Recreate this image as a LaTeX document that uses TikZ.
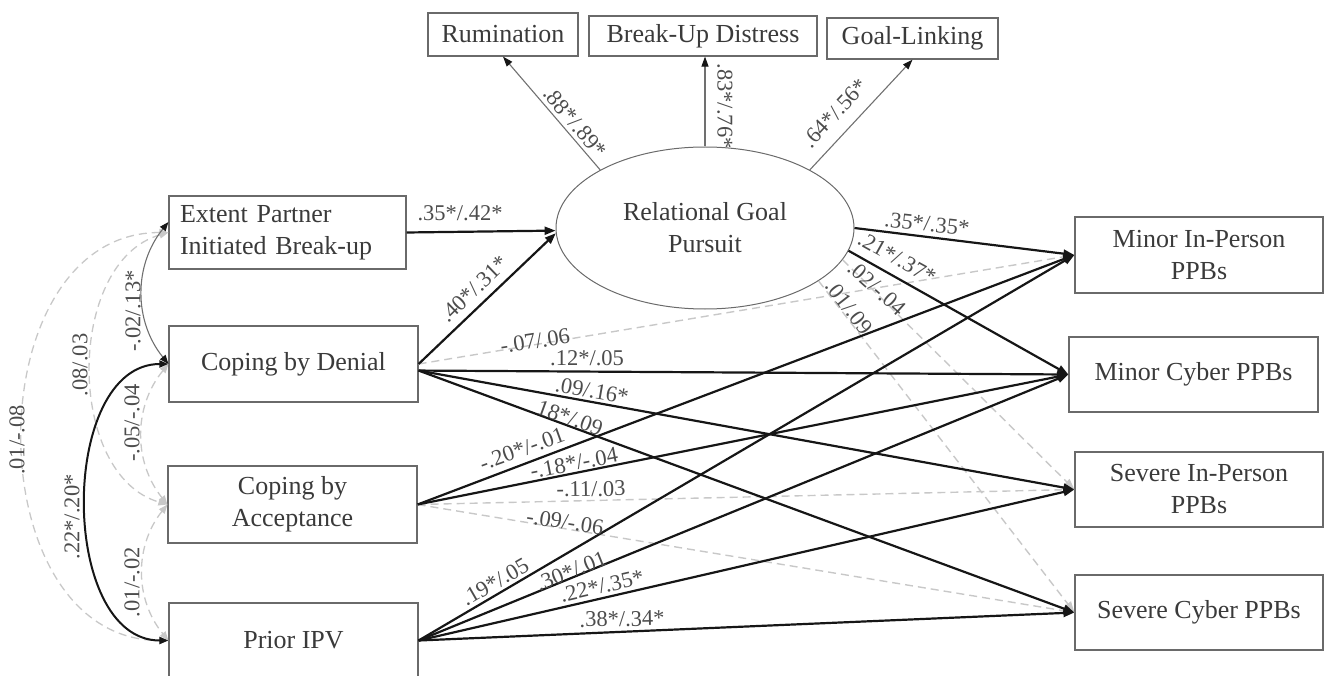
\documentclass[tikz,border=0pt]{standalone}
\usepackage{fontspec}
\setmainfont{Liberation Serif}
\usetikzlibrary{arrows.meta,shapes.geometric}
\definecolor{txt}{HTML}{3A3A3A}
\definecolor{lbl}{HTML}{4C4C4C}
\definecolor{boxc}{HTML}{6A6A6A}
\definecolor{dashc}{HTML}{C8C8C8}
\definecolor{sig}{HTML}{161616}
\definecolor{thinc}{HTML}{707070}
\begin{document}
\begin{tikzpicture}[x=1pt,y=-1pt,
  box/.style={draw=boxc, line width=1.2pt, text=txt, font=\fontsize{26}{32}\selectfont, align=center, inner sep=0pt},
  lab/.style={text=lbl, font=\fontsize{22.5}{26}\selectfont, inner sep=0pt},
  sigline/.style={draw=sig, line width=2.2pt, -{Triangle[length=11pt,width=8pt]}},
  nsline/.style={draw=dashc, line width=1.4pt, dash pattern=on 8pt off 5pt, -{Triangle[length=11pt,width=8pt,fill=dashc]}},
  thinline/.style={draw=thinc, line width=1.1pt, -{Triangle[length=10pt,width=7pt,fill=sig,color=sig]}},
  sigarc/.style={draw=sig, line width=2pt, {Triangle[length=9pt,width=7pt]}-{Triangle[length=9pt,width=7pt]}},
  nsarc/.style={draw=dashc, line width=1.3pt, dash pattern=on 8pt off 5pt, {Triangle[length=9pt,width=7pt,fill=dashc]}-{Triangle[length=9pt,width=7pt,fill=dashc]}},
  thinarc/.style={draw=thinc, line width=1.1pt, {Triangle[length=9pt,width=7pt,fill=sig,color=sig]}-{Triangle[length=9pt,width=7pt,fill=sig,color=sig]}},
]
\useasboundingbox (0,0) rectangle (1324,676);

% boxes
\node[box, minimum width=237pt, minimum height=73pt, align=left, text width=215pt] (ext) at (287.5,232.5) {Extent Partner\\Initiated Break-up};
\node[box, minimum width=249pt, minimum height=76pt] (den) at (293.5,364) {Coping by Denial};
\node[box, minimum width=249pt, minimum height=77pt] (acc) at (292.5,504.5) {Coping by\\Acceptance};
\node[box, minimum width=249pt, minimum height=75pt] (ipv) at (293.5,640.5) {Prior IPV};
\node[box, minimum width=248pt, minimum height=76pt] (mip) at (1199,255) {Minor In-Person\\PPBs};
\node[box, minimum width=249pt, minimum height=75pt] (mcy) at (1193.5,374.5) {Minor Cyber PPBs};
\node[box, minimum width=248pt, minimum height=75pt] (sip) at (1199,489.5) {Severe In-Person\\PPBs};
\node[box, minimum width=248pt, minimum height=75pt] (scy) at (1199,612.5) {Severe Cyber PPBs};
\node[box, minimum width=150pt, minimum height=43pt] (rum) at (503,34.5) {Rumination};
\node[box, minimum width=228pt, minimum height=40pt] (bud) at (703,36) {Break-Up Distress};
\node[box, minimum width=171pt, minimum height=41pt] (gl) at (912.5,38.5) {Goal-Linking};
\node[box, ellipse, minimum width=298pt, minimum height=162pt, line width=1pt] (rgp) at (705,228) {Relational Goal\\Pursuit};

% indicator arrows
\draw[thinline] (rgp.151) -- (rum.south);
\draw[thinline] (rgp.north) -- (rgp.north |- bud.south);
\draw[thinline] (rgp.29) -- (gl.south);

% left correlation arcs
\draw[nsarc] (ext.west) to[bend right=90, looseness=1.22] (ipv.west);
\draw[nsarc] (ext.west) to[bend right=74] (acc.west);
\draw[nsarc] (den.west) to[bend right=39] (acc.west);
\draw[nsarc] (acc.west) to[bend right=39] (ipv.west);
\draw[thinarc] (ext.175) to[bend right=39] (den.west);
\draw[sigarc] (den.west) to[bend right=90, looseness=1.02] (ipv.west);

% non-significant paths
\draw[nsline] (rgp.-13.6) -- (sip.west);
\draw[nsline] (rgp.-25.7) -- (scy.west);
\draw[nsline] (den.east) -- (mip.west);
\draw[nsline] (acc.east) -- (sip.west);
\draw[nsline] (acc.east) -- (scy.west);

% significant paths
\draw[sigline] (ext.east) -- (rgp.181);
\draw[sigline] (den.east) -- (rgp.182);
\draw[sigline] (rgp.east) -- (mip.west);
\draw[sigline] (rgp.-9.5) -- (mcy.west);
\draw[sigline] (den.-3) -- (mcy.west);
\draw[sigline] (den.-3) -- (sip.west);
\draw[sigline] (den.-3) -- (scy.west);
\draw[sigline] (acc.east) -- (mip.west);
\draw[sigline] (acc.east) -- (mcy.west);
\draw[sigline] (ipv.east) -- (mip.west);
\draw[sigline] (ipv.east) -- (mcy.west);
\draw[sigline] (ipv.east) -- (sip.west);
\draw[sigline] (ipv.east) -- (scy.west);

% labels
\node[lab] (l1) at (460,213) {.35*/.42*};
\node[lab, rotate=44] (l2) at (474,289) {.40*/.31*};
\node[lab, rotate=-50] (l3) at (575,122) {.88*/.89*};
\node[lab, rotate=-90] (l4) at (725,106) {.83*/.76*};
\node[lab, rotate=47] (l5) at (835,113) {.64*/.56*};
\node[lab, rotate=-6] (l6) at (927,224) {.35*/.35*};
\node[lab, rotate=-29] (l7) at (897,258) {.21*/.37*};
\node[lab, rotate=-42] (l8) at (877,288) {.02/-.04};
\node[lab, rotate=-52] (l9) at (849,307) {.01/.09};
\node[lab, rotate=9] (l10) at (535,341) {-.07/.06};
\node[lab] (l11) at (587,358) {.12*/.05};
\node[lab, rotate=-10] (l12) at (592,391) {.09/.16*};
\node[lab, rotate=-20] (l13) at (570,418) {18*/.09};
\node[lab, rotate=20] (l14) at (522,449) {-.20*/-.01};
\node[lab, rotate=11] (l15) at (574,463) {-.18*/-.04};
\node[lab, rotate=1] (l16) at (591,489) {-.11/.03};
\node[lab, rotate=-9] (l17) at (565,522) {-.09/-.06};
\node[lab, rotate=30] (l18) at (495,582) {.19*/.05};
\node[lab, rotate=22] (l19) at (571,571) {.30*/.01};
\node[lab, rotate=13] (l20) at (602,586) {.22*/.35*};
\node[lab, rotate=1] (l21) at (622,619) {.38*/.34*};
% arc labels
\node[lab, rotate=90] (a1) at (133,311) {-.02/.13*};
\node[lab, rotate=90] (a2) at (80,365) {.08/.03};
\node[lab, rotate=90] (a3) at (17,440) {.01/-.08};
\node[lab, rotate=90] (a4) at (132,423) {-.05/-.04};
\node[lab, rotate=90] (a5) at (72,517) {.22*/.20*};
\node[lab, rotate=90] (a6) at (132,582) {.01/-.02};
\end{tikzpicture}
\end{document}
